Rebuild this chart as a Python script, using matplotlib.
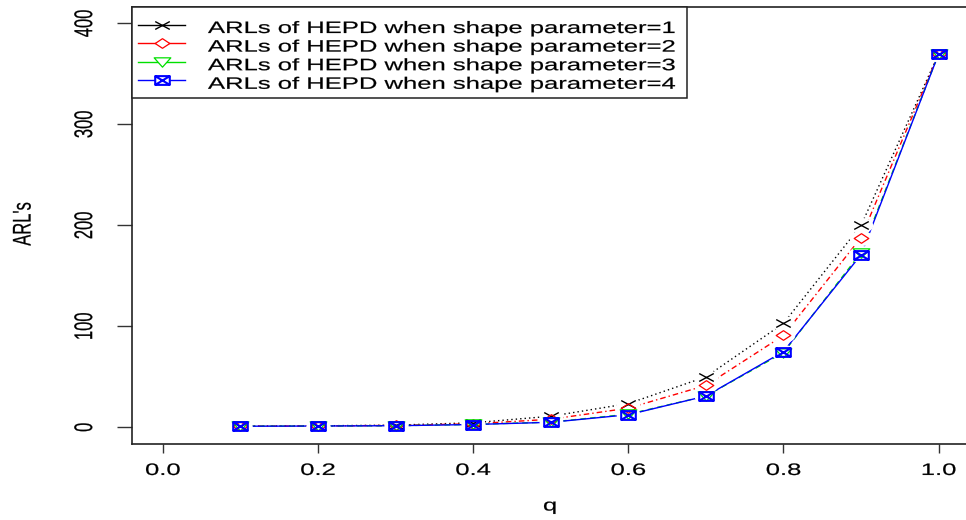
import matplotlib
matplotlib.use("Agg")
import matplotlib.pyplot as plt
import numpy as np
from matplotlib.path import Path
from matplotlib.patches import Rectangle
from matplotlib.lines import Line2D
from matplotlib.transforms import Affine2D
from matplotlib.patheffects import AbstractPathEffect

# ---------------- data ----------------
q = [0.1, 0.2, 0.3, 0.4, 0.5, 0.6, 0.7, 0.8, 0.9, 1.0]
arl_shape1 = [1.1, 1.5, 2.2, 4.5, 11, 23.5, 50, 103, 200, 370]
arl_shape2 = [1.1, 1.4, 1.9, 3.5, 8, 19, 41.5, 91, 188, 370]
arl_shape3 = [1.1, 1.3, 1.6, 2.9, 5.2, 13, 31, 74, 173, 370]
arl_shape4 = [1.1, 1.3, 1.6, 2.8, 5, 12.5, 31, 75, 171, 370]
labels = ["ARLs of HEPD when shape parameter=1",
          "ARLs of HEPD when shape parameter=2",
          "ARLs of HEPD when shape parameter=3",
          "ARLs of HEPD when shape parameter=4"]
x_ticks = [0.0, 0.2, 0.4, 0.6, 0.8, 1.0]
y_ticks = [0, 100, 200, 300, 400]
x_label = "q"
y_label = "ARL's"

# ---------------- style ----------------
plt.rcParams['font.family'] = ['Liberation Sans', 'DejaVu Sans']
FS = 11.9          # points (dpi 100)
SX = 1.55          # horizontal stretch of the original picture


class StretchX(AbstractPathEffect):
    """Draw text stretched horizontally (the reference image is stretched)."""
    def __init__(self, sx, anchor='center', stroke=0.15):
        super().__init__()
        self.sx = sx
        self.anchor = anchor
        self.stroke = stroke

    def draw_path(self, renderer, gc, tpath, affine, rgbFace=None):
        if len(tpath.vertices) == 0:
            return
        ext = tpath.get_extents(affine)
        a = ext.x0 if self.anchor == 'left' else 0.5 * (ext.x0 + ext.x1)
        t = affine + Affine2D().translate(-a, 0).scale(self.sx, 1).translate(a, 0)
        gc0 = renderer.new_gc()
        gc0.copy_properties(gc)
        if rgbFace is not None and self.stroke > 0:
            gc0.set_foreground(rgbFace)
            gc0.set_linewidth(self.stroke)
        renderer.draw_path(gc0, tpath, t, rgbFace)
        gc0.restore()


def mk(verts_list):
    verts, codes = [], []
    for seg, closed in verts_list:
        verts += seg
        codes += [Path.MOVETO] + [Path.LINETO] * (len(seg) - 1)
        if closed:
            verts.append(seg[0])
            codes.append(Path.CLOSEPOLY)
    return Path(verts, codes)


M_X = mk([([(-0.5, -0.27), (0.5, 0.27)], False), ([(-0.5, 0.27), (0.5, -0.27)], False)])
M_D = mk([([(0, 0.33), (0.5, 0), (0, -0.33), (-0.5, 0)], True)])
M_V = mk([([(-0.5, 0.28), (0.5, 0.28), (0, -0.28)], True)])
M_S = mk([([(-0.45, -0.27), (0.45, -0.27), (0.45, 0.27), (-0.45, 0.27)], True),
          ([(-0.45, -0.27), (0.45, 0.27)], False), ([(-0.45, 0.27), (0.45, -0.27)], False)])
t_ = np.linspace(0, 2 * np.pi, 40)
M_GAP = Path(np.column_stack([0.5 * np.cos(t_), 0.32 * np.sin(t_)]))

W, H = 966, 520
fig = plt.figure(figsize=(W / 100, H / 100), dpi=100)
left_px, right_px, top_px, bot_px = 131.7, 969.7, 7.3, 443.5
ax = fig.add_axes([left_px / W, 1 - bot_px / H, (right_px - left_px) / W, (bot_px - top_px) / H])
px = Affine2D().scale(1 / W, -1 / H).translate(0, 1) + fig.transFigure

series = [arl_shape1, arl_shape2, arl_shape3, arl_shape4]
colors = ['black', '#FF0000', '#00E000', '#0000FF']
styles = [(0, (1.0, 2.2)), (0, (1, 2.2, 4, 2.2)), (0, (4, 3)), '-']
markers = [M_X, M_D, M_V, M_S]
msizes = [10.5, 10.5, 12, 10.5]
mews = [1.0, 0.9, 0.9, 1.5]

for ys, c, ls in zip(series, colors, styles):
    ax.plot(q, ys, color=c, linestyle=ls, linewidth=1.0, zorder=2)
for ys in series:
    ax.plot(q, ys, linestyle='none', marker=M_GAP, markersize=17, markerfacecolor='white',
            markeredgecolor='none', zorder=2.5)
for ys, c, m, ms, mew in zip(series, colors, markers, msizes, mews):
    ax.plot(q, ys, linestyle='none', marker=m, markersize=ms, markerfacecolor='none',
            markeredgecolor=c, markeredgewidth=mew, zorder=3)

ax.set_xlim(-0.04, 1.04)
ax.set_ylim(-16, 416)
ax.set_xticks(x_ticks)
ax.set_xticklabels([f"{v:.1f}" for v in x_ticks])
ax.set_yticks(y_ticks)
ax.set_yticklabels([str(v) for v in y_ticks], rotation=90, va='center', ha='center')
ax.tick_params(axis='x', direction='out', length=6.5, width=1.0, labelsize=FS, pad=7.5,
               color='#333333')
ax.tick_params(axis='y', direction='out', length=10.8, width=1.0, labelsize=FS, pad=23.2,
               color='#333333')
for s in ['left', 'bottom', 'top', 'right']:
    ax.spines[s].set_linewidth(1.2)
    ax.spines[s].set_color('#222222')
for lab in ax.get_xticklabels() + ax.get_yticklabels():
    lab.set_path_effects([StretchX(SX)])

# axis titles
fig.text(550 / W, 1 - 510.5 / H, x_label, fontsize=FS, ha='center', va='baseline',
         path_effects=[StretchX(SX)])
fig.text(23 / W, 1 - 224 / H, y_label, fontsize=FS, ha='center', va='center', rotation=90,
         path_effects=[StretchX(SX)])

# legend (drawn by hand so the frame fits the stretched text)
fig.add_artist(Rectangle((131.7, 7.3), 687 - 131.7, 98 - 7.3, transform=px, facecolor='white',
                         edgecolor='#222222', linewidth=1.1, zorder=5))
for i, (c, m, ms, mew, lab) in enumerate(zip(colors, markers, msizes, mews, labels)):
    yrow = 24.5 + 18.6 * i
    fig.add_artist(Line2D([138, 185], [yrow, yrow], transform=px, color=c, lw=1.0, zorder=6))
    fig.add_artist(Line2D([161.5], [yrow], transform=px, linestyle='none', marker=m,
                          markersize=ms, markerfacecolor='white', markeredgecolor=c,
                          markeredgewidth=mew, zorder=7))
    fig.text(208 / W, 1 - (yrow + 8.5) / H, lab, fontsize=FS, ha='left', va='baseline',
             zorder=7, path_effects=[StretchX(SX, anchor='left')])

fig.savefig("out.png", dpi=100)
